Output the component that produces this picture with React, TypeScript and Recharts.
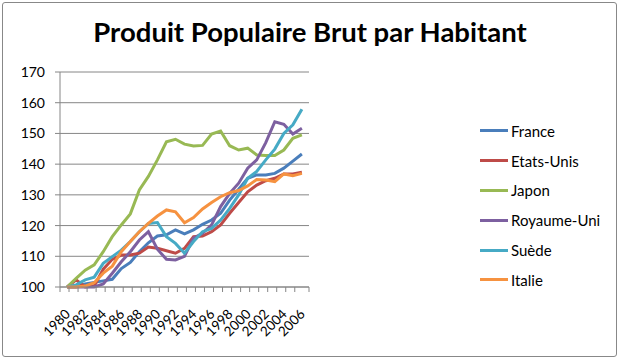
import { LineChart, Line, XAxis, YAxis, CartesianGrid, Legend } from 'recharts';

const years = [
  '1980', '1981', '1982', '1983', '1984', '1985', '1986', '1987', '1988', '1989',
  '1990', '1991', '1992', '1993', '1994', '1995', '1996', '1997', '1998', '1999',
  '2000', '2001', '2002', '2003', '2004', '2005', '2006',
];

const france = [100, 100, 101, 101.5, 102, 102.5, 106, 108, 111.5, 114.4, 116.6, 117, 118.6, 117.3, 118.6, 120.4, 121.8, 124, 128.3, 131.8, 135.4, 136.5, 136.5, 137, 138.7, 141, 143.3];
const etatsUnis = [100, 102.3, 100, 100.3, 105.8, 109, 110.4, 110.4, 111, 113, 112.6, 111.8, 111, 112.6, 116.4, 116.6, 118, 120.2, 124, 127.5, 131, 133.2, 134.6, 135.4, 136.8, 136.8, 137.4];
const japon = [100, 102.8, 105.5, 107.2, 111.5, 116.4, 120.2, 123.8, 131.6, 136, 141.4, 147.3, 148.1, 146.5, 145.9, 146.1, 149.8, 150.8, 146, 144.6, 145.2, 143, 142.8, 142.8, 144.6, 148.4, 149.5];
const royaumeUni = [100, 100, 100, 100, 101, 104.5, 108.2, 111.5, 115.3, 118, 112.3, 109, 108.8, 110, 115.9, 117.5, 120.2, 126.2, 130.5, 133.8, 138.7, 141.4, 147, 153.8, 153, 149.8, 151.7];
const suede = [100, 100.7, 102.3, 103.2, 107.7, 109.9, 112, 114.8, 118, 120.7, 121, 116.4, 114.2, 111, 114.8, 118, 119.1, 121.8, 125.6, 130, 135.4, 137.6, 141.4, 144.9, 150, 152.8, 157.9];
const italie = [100, 100, 100.3, 101.4, 104.5, 106.8, 111.5, 114.8, 118, 120.7, 123.1, 125.1, 124.5, 120.9, 122.6, 125.4, 127.5, 129.4, 130.7, 131.4, 132.9, 135, 134.8, 134.3, 136.8, 136.2, 137];

const yTicks = [100, 110, 120, 130, 140, 150, 160, 170];

const series = [
  { key: 'France', values: france, color: '#4a7ebb' },
  { key: 'Etats-Unis', values: etatsUnis, color: '#be4b48' },
  { key: 'Japon', values: japon, color: '#98b954' },
  { key: 'Royaume-Uni', values: royaumeUni, color: '#7d60a0' },
  { key: 'Suède', values: suede, color: '#46aac5' },
  { key: 'Italie', values: italie, color: '#f69240' },
];

const data = years.map((year, i) => {
  const row: Record<string, string | number> = { year };
  series.forEach((s) => {
    row[s.key] = s.values[i];
  });
  return row;
});

const FONT = 'Lato, "Liberation Sans", sans-serif';
const AXIS = '#868686';
const BAND = 384 / years.length;

function YearTick(props: any) {
  const { x, y, payload, index } = props;
  const showLabel = index % 2 === 0;
  const lx = x + 4;
  const ly = y + 28;
  return (
    <g>
      <line x1={x - BAND / 2} x2={x - BAND / 2} y1={y} y2={y + 5} stroke={AXIS} />
      {index === years.length - 1 && (
        <line x1={x + BAND / 2} x2={x + BAND / 2} y1={y} y2={y + 5} stroke={AXIS} />
      )}
      {showLabel && (
        <text
          x={lx}
          y={ly}
          textAnchor="end"
          fontSize={13.5}
          fill="#000"
          fontFamily={FONT}
          transform={`rotate(-45 ${lx} ${ly})`}
        >
          {payload.value}
        </text>
      )}
    </g>
  );
}

// legend keeps the series order (recharts would sort it by name)
function LegendList() {
  return (
    <div style={{ fontFamily: FONT, fontSize: 15, color: '#000' }}>
      {series.map((s) => (
        <div key={s.key} style={{ display: 'flex', alignItems: 'center', height: 29.8 }}>
          <span style={{ display: 'inline-block', width: 28, height: 3, background: s.color, marginRight: 3 }} />
          <span>{s.key}</span>
        </div>
      ))}
    </div>
  );
}

export default function App() {
  return (
    <div style={{ position: 'absolute', left: 0, top: 0, width: 620, height: 360, background: '#fff' }}>
      <LineChart
        width={620}
        height={360}
        data={data}
        margin={{ top: 72, right: 176, bottom: 0, left: 0 }}
      >
        <CartesianGrid vertical={false} stroke={AXIS} />
        <XAxis
          dataKey="year"
          interval={0}
          height={73}
          padding={{ left: BAND / 2, right: BAND / 2 }}
          tickSize={0}
          tickMargin={0}
          tickLine={false}
          axisLine={{ stroke: AXIS }}
          tick={<YearTick />}
        />
        <YAxis
          domain={[100, 170]}
          ticks={yTicks}
          width={60}
          tickSize={5}
          tickMargin={10}
          tickLine={{ stroke: AXIS }}
          axisLine={{ stroke: AXIS }}
          tick={{ fontSize: 14, fill: '#000', fontFamily: FONT }}
        />
        <Legend
          layout="vertical"
          align="right"
          verticalAlign="top"
          content={<LegendList />}
          wrapperStyle={{ left: 480, top: 116, width: 135 }}
        />
        {series.map((s) => (
          <Line
            key={s.key}
            dataKey={s.key}
            type="linear"
            stroke={s.color}
            strokeWidth={3}
            dot={false}
            isAnimationActive={false}
          />
        ))}
      </LineChart>
      <div
        style={{
          position: 'absolute',
          left: 0,
          top: 15,
          width: 620,
          textAlign: 'center',
          fontFamily: FONT,
          fontWeight: 700,
          fontSize: 27.5,
          lineHeight: '34px',
          color: '#000',
        }}
      >
        Produit Populaire Brut par Habitant
      </div>
      <div
        style={{
          position: 'absolute',
          left: 2,
          top: 2,
          width: 615,
          height: 355,
          border: '1px solid #888',
          borderRadius: 3,
          boxSizing: 'border-box',
          pointerEvents: 'none',
        }}
      />
    </div>
  );
}
